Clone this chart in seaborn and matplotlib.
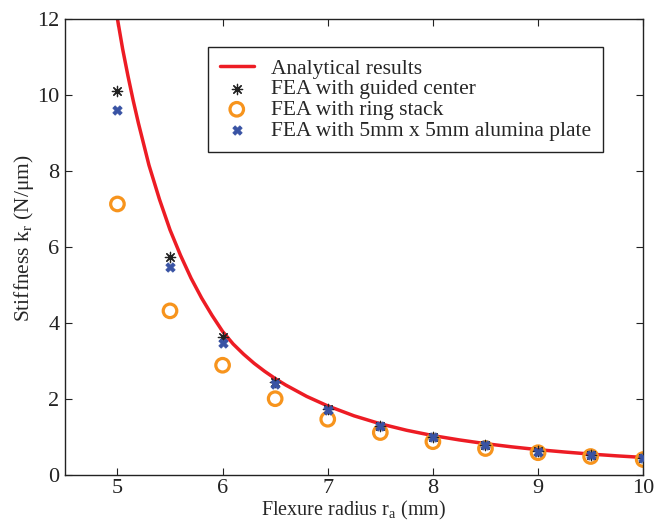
import matplotlib
matplotlib.use("Agg")
import matplotlib.pyplot as plt
import seaborn as sns

# analytical curve
r_curve = [4.98, 5.0, 5.05, 5.1, 5.15, 5.2, 5.3, 5.4, 5.5, 5.6, 5.7, 5.8, 5.9, 6.0,
           6.1, 6.2, 6.3, 6.4, 6.5, 6.6, 6.8, 7.0, 7.25, 7.5, 7.75, 8.0, 8.25, 8.5, 8.75,
           9.0, 9.25, 9.5, 9.75, 10.0]
k_curve = [12.4, 12.0, 11.2, 10.5, 9.85, 9.25, 8.15, 7.25, 6.45, 5.78, 5.18, 4.66, 4.20, 3.78,
           3.45, 3.18, 2.94, 2.73, 2.54, 2.37, 2.07, 1.82, 1.56, 1.35, 1.18, 1.04, 0.927,
           0.828, 0.744, 0.67, 0.609, 0.554, 0.507, 0.466]

# FEA results
r_fea = [5.0, 5.5, 6.0, 6.5, 7.0, 7.5, 8.0, 8.5, 9.0, 9.5, 10.0]
k_guided = [10.09, 5.73, 3.62, 2.46, 1.74, 1.30, 1.01, 0.80, 0.64, 0.54, 0.46]
k_ring = [7.13, 4.32, 2.89, 2.01, 1.47, 1.12, 0.88, 0.70, 0.59, 0.49, 0.41]
k_plate = [9.59, 5.47, 3.47, 2.39, 1.70, 1.28, 0.99, 0.78, 0.62, 0.52, 0.44]

sns.set_theme(style="ticks")
plt.rcParams['font.family'] = ['Liberation Serif', 'DejaVu Serif']
plt.rcParams['mathtext.fontset'] = 'custom'
plt.rcParams['mathtext.rm'] = 'Liberation Serif'
plt.rcParams['mathtext.it'] = 'Liberation Serif:italic'

fig = plt.figure(figsize=(6.55, 5.21), dpi=100)
ax = fig.add_axes([0.099, 0.088, 0.883, 0.876])

sns.lineplot(x=r_curve, y=k_curve, color='#ED1C24', linewidth=2.5, ax=ax,
             label='Analytical results', sort=False)
sns.scatterplot(x=r_fea, y=k_guided, marker=(8, 2, 0), color='#222222', s=55,
                linewidth=0.9, ax=ax, label='FEA with guided center', zorder=3)
sns.scatterplot(x=r_fea, y=k_ring, marker='o', facecolors='none', edgecolor='#F7941D',
                s=95, linewidth=2.3, ax=ax, label='FEA with ring stack', zorder=2)
sns.scatterplot(x=r_fea, y=k_plate, marker='X', color='#3953A4', edgecolor='#3953A4',
                s=45, linewidth=0.6, ax=ax, label='FEA with 5mm x 5mm alumina plate', zorder=4)

ax.set_xlim(4.5, 10)
ax.set_ylim(0, 12)
ax.set_xticks([5, 6, 7, 8, 9, 10])
ax.set_yticks([0, 2, 4, 6, 8, 10, 12])
ax.tick_params(direction='in', top=True, right=True, labelsize=16, length=5, width=0.8,
               colors='#222222')
ax.tick_params(axis='y', pad=4)
ax.tick_params(axis='x', pad=3)
for s in ax.spines.values():
    s.set_visible(True)
    s.set_linewidth(1.0)
    s.set_color('#222222')

ax.set_xlabel('Flexure radius r$_\\mathrm{a}$ (mm)', fontsize=14.5, labelpad=0)
ax.xaxis.set_label_coords(0.5, -0.0525)
ax.set_ylabel('Stiffness k$_\\mathrm{r}$ (N/\u03bcm)', fontsize=15.5)
ax.yaxis.set_label_coords(-0.05, 0.52)

leg = ax.legend(loc='upper left', bbox_to_anchor=(0.247, 0.939), borderaxespad=0,
                fontsize=15.5, frameon=True, fancybox=False, framealpha=1,
                edgecolor='#222222', handlelength=1.6, labelspacing=0.03,
                borderpad=0.55, handletextpad=0.8)
leg.get_frame().set_linewidth(1.0)

plt.savefig('out.png', dpi=100)
